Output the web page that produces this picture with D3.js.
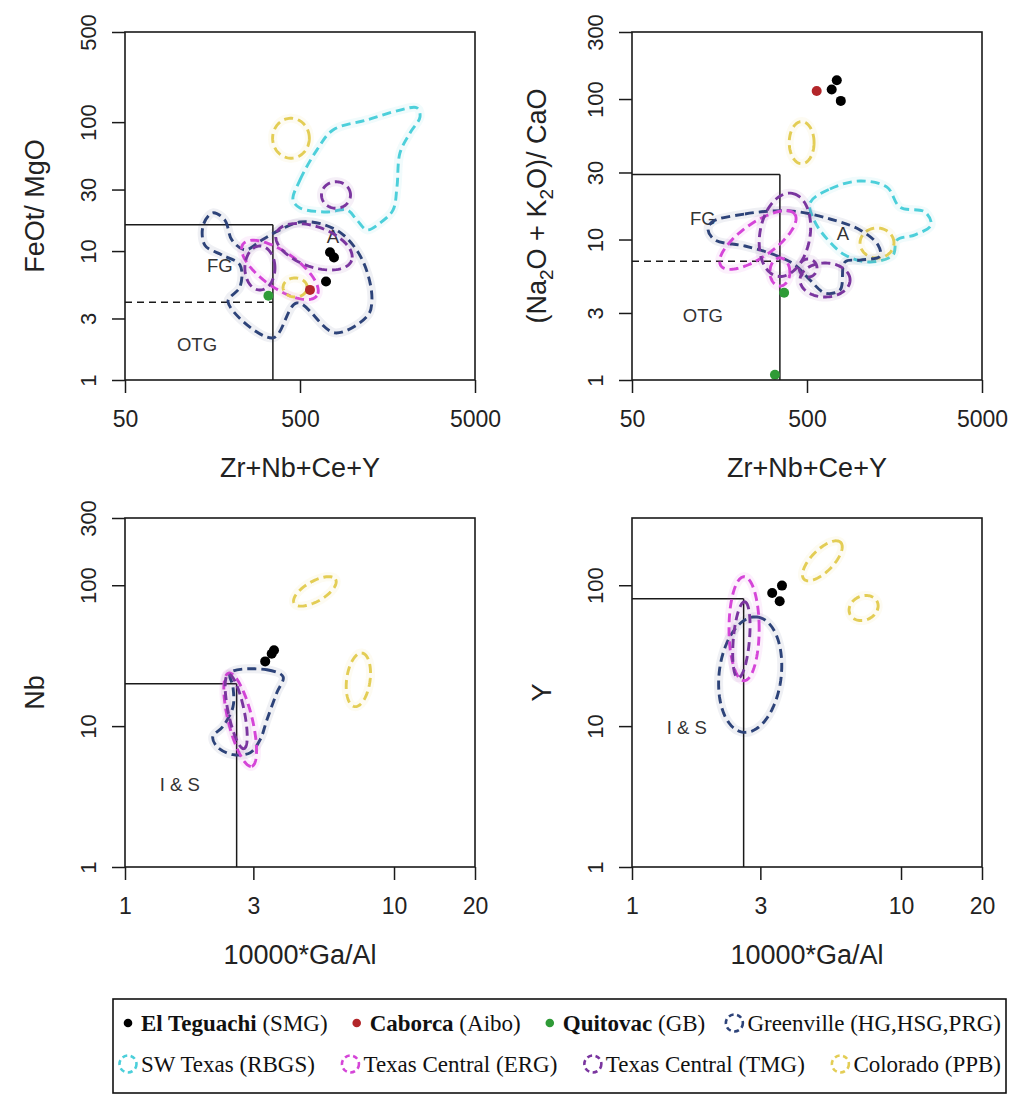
<!DOCTYPE html>
<html>
<head>
<meta charset="utf-8">
<script src="https://cdn.jsdelivr.net/npm/d3@7"></script>
<style>
  body { margin: 0; background: #fff; }
  svg { display: block; }
</style>
</head>
<body>
<svg id="chart" width="1011" height="1097"></svg>
<script>
// ---------------- sample points ([x, y] pairs) ----------------
// Panel A: Zr+Nb+Ce+Y vs FeOt/MgO
const teguachiA = [[742, 9.8], [782, 8.9], [704, 5.8]];
const caborcaA  = [[570, 5.0]];
const quitovacA = [[330, 4.5]];
// Panel B: Zr+Nb+Ce+Y vs (Na2O+K2O)/CaO
const teguachiB = [[740, 136], [692, 117], [780, 97]];
const caborcaB  = [[568, 114]];
const quitovacB = [[370, 4.18], [328, 1.09]];
// Panel C: 10000*Ga/Al vs Nb
const teguachiC = [[3.32, 28.8], [3.51, 32.6], [3.58, 34.5]];
// Panel D: 10000*Ga/Al vs Y
const teguachiD = [[3.32, 88], [3.61, 99.4], [3.54, 76.9]];

// ---------------- reference fields ----------------
// Irregular fields: closed outlines, [x, y] vertices in data units.
// Elliptical fields: centre (data units) plus two semi-axis vectors u, v in log10 units.
const greenvilleA = [[159,19.8],[186,17.4],[204,12.2],[243,10.2],[303,12.2],[384,14.6],[500,16.8],
  [668,16.2],[869,13.6],[1071,9.84],[1224,6.53],[1288,4.18],[1224,3.19],[792,2.32],[480,3.96],
  [350,2.12],[194,4.03],[227,5.27],[227,7.8],[179,9.33],[143,11.1],[140,15.9]];
const swTexasA = [[456,24.9],[500,35.6],[625,60.9],[772,86.9],[1207,104],[1863,124],[2332,129],
  [2426,110],[2126,82.4],[1863,57.7],[1791,31.4],[1699,20.8],[1432,16.5],[1207,14.6],[1058,17.4],
  [929,20.8],[713,20.1],[500,21.6]];
const ergA = [{x: 384, y: 7.14, u: [0.211, -0.200], v: [-0.059, -0.114]}];
const tmgA = [
  {x: 601, y: 10.8, u: [0.215, -0.106], v: [-0.039, -0.146]},
  {x: 295, y: 7.39, u: [0.086, 0], v: [0, 0.171]},
  {x: 803, y: 27.2, u: [0.083, 0], v: [0, 0.103]}
];
const coloradoA = [
  {x: 444, y: 75, u: [0.105, 0], v: [0, 0.155]},
  {x: 469, y: 5.22, u: [0.069, 0], v: [0, 0.074]}
];

const greenvilleB = [[143,13.3],[221,15.2],[400,16.0],[676,14.0],[1005,11.7],[1273,9.14],[1307,7.63],
  [1005,7.14],[824,6.92],[772,4.37],[634,4.16],[520,5.15],[427,6.59],[328,7.76],[221,8.99],
  [149,9.92],[136,11.7]];
const swTexasB = [[520,18.2],[676,22.9],[1005,26.1],[1432,23.6],[1699,17.0],[2361,15.7],[2557,12.7],
  [2071,10.8],[1634,9.92],[1549,7.76],[1146,6.92],[824,7.76],[659,9.92],[556,13.3]];
const ergB = [
  {x: 262, y: 9.92, u: [0.211, 0.184], v: [0.056, -0.099]},
  {x: 350, y: 5.87, u: [0.057, 0], v: [0, 0.10]}
];
const tmgB = [
  {x: 374, y: 10.8, u: [0.042, 0.295], v: [0.141, -0.031]},
  {x: 634, y: 5.15, u: [0.143, 0], v: [0, 0.121]},
  {x: 507, y: 6.27, u: [0.051, 0], v: [0, 0.064]}
];
const coloradoB = [
  {x: 466, y: 48.9, u: [0.071, 0], v: [0, 0.150]},
  {x: 1256, y: 9.44, u: [0.097, 0], v: [0, 0.107]}
];

const greenvilleC = [[2.46,23.9],[3.37,25.1],[3.87,22.4],[3.67,17.3],[3.37,11.1],[3.18,8.02],
  [2.92,6.48],[2.52,6.27],[2.20,7.14],[2.12,8.41],[2.31,9.91],[2.52,13.7],[2.52,19.0]];
const ergC = [{x: 2.68, y: 11.1, u: [0.043, -0.331], v: [0.043, 0.021]}];
const tmgC = [{x: 2.59, y: 12.7, u: [0.029, -0.264], v: [0.029, 0.012]}];
const coloradoC = [
  {x: 5.08, y: 90.4, u: [0.077, 0.085], v: [0.019, -0.061]},
  {x: 7.37, y: 21.3, u: [0.014, 0.190], v: [0.043, -0.012]}
];

const greenvilleD = [{x: 2.75, y: 23.2, u: [0.026, 0.409], v: [0.1145, -0.027]}];
const ergD = [{x: 2.61, y: 49.1, u: [0.056, 0], v: [0, 0.369]}];
const tmgD = [{x: 2.55, y: 41.0, u: [0.012, 0.27], v: [0.03, -0.003]}];
const coloradoD = [
  {x: 5.10, y: 149, u: [0.068, 0.131], v: [0.029, -0.055]},
  {x: 7.26, y: 68.9, u: [0.0506, 0.0447], v: [0.019, -0.077]}
];

// ---------------- discrimination boundaries (Whalen et al.) ----------------
const boundaryA = {x: 350, y: 16, yDash: 4};
const boundaryB = {x: 350, y: 29, yDash: 7};
const boundaryC = {x: 2.6, y: 20};
const boundaryD = {x: 2.6, y: 80};

// ---------------- axes ----------------
const xTicksZr = [50, 500, 5000];
const xTicksGa = [1, 3, 10, 20];
const yTicksA = [1, 3, 10, 30, 100, 500];
const yTicksB = [1, 3, 10, 30, 100, 300];
const yTicksC = [1, 10, 100, 300];
const yTicksD = [1, 10, 100];

// ---------------- field labels ----------------
const labelsA = [["FG", 174, 7.66], ["OTG", 129, 1.87], ["A", 772, 12.9]];
const labelsB = [["FG", 127, 14.2], ["OTG", 127, 2.90], ["A", 803, 11.1]];
const labelsC = [["I & S", 1.60, 3.84]];
const labelsD = [["I & S", 1.60, 9.75]];

// ---------------- legend ----------------
const legendNames = ["El Teguachi", "Caborca", "Quitovac", "Greenville",
                     "SW Texas", "Texas Central", "Texas Central", "Colorado"];
const legendTags  = [" (SMG)", " (Aibo)", " (GB)", " (HG,HSG,PRG)",
                     " (RBGS)", " (ERG)", " (TMG)", " (PPB)"];
const legendKeys  = ["teguachi", "caborca", "quitovac", "greenville",
                     "swtexas", "erg", "tmg", "colorado"];

const colors = {
  teguachi: "#000000", caborca: "#b3262a", quitovac: "#2f9b37",
  greenville: "#2d4379", swtexas: "#4ccfda", erg: "#d545d8",
  tmg: "#7a359f", colorado: "#e3cd55"
};

const SANS = "'Liberation Sans', Arial, Helvetica, sans-serif";
const SERIF = "'Liberation Serif', 'Times New Roman', serif";
const svg = d3.select("#chart");
svg.append("rect").attr("width", 1011).attr("height", 1097).attr("fill", "#fff");

function ellipsePoints(e) {
  const lx = Math.log10(e.x), ly = Math.log10(e.y);
  return d3.range(90).map(i => {
    const t = i / 90 * 2 * Math.PI;
    return [Math.pow(10, lx + e.u[0] * Math.cos(t) + e.v[0] * Math.sin(t)),
            Math.pow(10, ly + e.u[1] * Math.cos(t) + e.v[1] * Math.sin(t))];
  });
}

function drawPanel(cfg) {
  const g = svg.append("g");
  const x = d3.scaleLog().domain(cfg.xDomain).range([cfg.left, cfg.right]);
  const y = d3.scaleLog().domain(cfg.yDomain).range([cfg.bottom, cfg.top]);

  // boundary lines
  const b = cfg.boundary;
  const bl = g.append("g").attr("stroke", "#1a1a1a").attr("stroke-width", 1.5).attr("fill", "none");
  bl.append("line").attr("x1", x(b.x)).attr("x2", x(b.x)).attr("y1", y(cfg.yDomain[0])).attr("y2", y(b.y));
  bl.append("line").attr("x1", x(cfg.xDomain[0])).attr("x2", x(b.x)).attr("y1", y(b.y)).attr("y2", y(b.y));
  if (b.yDash) {
    bl.append("line").attr("x1", x(cfg.xDomain[0])).attr("x2", x(b.x)).attr("y1", y(b.yDash)).attr("y2", y(b.yDash))
      .attr("stroke-dasharray", "7,5");
  }

  // field labels
  g.selectAll("text.lab").data(cfg.labels).join("text").attr("class", "lab")
    .attr("x", d => x(d[1])).attr("y", d => y(d[2])).attr("dy", "0.35em")
    .attr("text-anchor", "middle").attr("font-family", SANS).attr("font-size", 18.5)
    .attr("fill", "#333").text(d => d[0]);

  // reference fields
  const curve = d3.line().x(d => x(d[0])).y(d => y(d[1])).curve(d3.curveCatmullRomClosed.alpha(0.5));
  const ell = d3.line().x(d => x(d[0])).y(d => y(d[1])).curve(d3.curveLinearClosed);
  const fg = g.append("g").attr("fill", "none");
  cfg.fields.forEach(f => {
    const shapes = f.poly ? [curve(f.poly)] : f.ellipses.map(e => ell(ellipsePoints(e)));
    shapes.forEach(dPath => {
      fg.append("path").attr("d", dPath).attr("stroke", colors[f.key])
        .attr("stroke-width", 9).attr("stroke-opacity", 0.08);
      fg.append("path").attr("d", dPath).attr("stroke", colors[f.key])
        .attr("stroke-width", 2.9).attr("stroke-dasharray", "9,5");
    });
  });

  // sample points
  cfg.points.forEach(p => {
    g.append("g").selectAll("circle").data(p.data).join("circle")
      .attr("cx", d => x(d[0])).attr("cy", d => y(d[1])).attr("r", 5)
      .attr("fill", colors[p.key]);
  });

  // frame
  g.append("rect").attr("x", cfg.left).attr("y", cfg.top)
    .attr("width", cfg.right - cfg.left).attr("height", cfg.bottom - cfg.top)
    .attr("fill", "none").attr("stroke", "#1a1a1a").attr("stroke-width", 1.6);

  // axes
  const fmt = d3.format("d");
  const gx = g.append("g").attr("transform", `translate(0,${cfg.bottom})`)
    .call(d3.axisBottom(x).tickValues(cfg.xTicks).tickFormat(fmt).tickSize(13));
  gx.select(".domain").remove();
  gx.selectAll("line").attr("stroke", "#1a1a1a").attr("stroke-width", 1.5);
  gx.selectAll("text").attr("y", 47).attr("dy", null)
    .attr("font-family", SANS).attr("font-size", 23).attr("fill", "#222");

  const gy = g.append("g").attr("transform", `translate(${cfg.left},0)`)
    .call(d3.axisLeft(y).tickValues(cfg.yTicks).tickFormat(fmt).tickSize(13));
  gy.select(".domain").remove();
  gy.selectAll("line").attr("stroke", "#1a1a1a").attr("stroke-width", 1.5);
  gy.selectAll("text").attr("x", 0).attr("dy", null).attr("text-anchor", "middle")
    .attr("transform", "translate(-29,0) rotate(-90)")
    .attr("font-family", SANS).attr("font-size", 22).attr("fill", "#222");

  // axis titles
  g.append("text").attr("x", (cfg.left + cfg.right) / 2).attr("y", cfg.bottom + 97)
    .attr("text-anchor", "middle").attr("font-family", SANS).attr("font-size", 27)
    .attr("fill", "#222").text(cfg.xTitle);
  const yt = g.append("text")
    .attr("transform", `translate(${cfg.left - cfg.yTitleOffset},${(cfg.top + cfg.bottom) / 2}) rotate(-90)`)
    .attr("text-anchor", "middle").attr("font-family", SANS).attr("font-size", 27).attr("fill", "#222");
  cfg.yTitle.forEach(part => {
    const ts = yt.append("tspan").text(part.t);
    if (part.sub) ts.attr("font-size", 19).attr("dy", 7);
    if (part.after) ts.attr("dy", -7);
  });
}

drawPanel({
  left: 125, right: 475, top: 32, bottom: 380,
  xDomain: [50, 5000], yDomain: [1, 500], xTicks: xTicksZr, yTicks: yTicksA,
  xTitle: "Zr+Nb+Ce+Y", yTitle: [{t: "FeOt/ MgO"}], yTitleOffset: 81,
  boundary: boundaryA, labels: labelsA,
  fields: [
    {key: "swtexas", poly: swTexasA},
    {key: "greenville", poly: greenvilleA},
    {key: "erg", ellipses: ergA},
    {key: "tmg", ellipses: tmgA},
    {key: "colorado", ellipses: coloradoA}
  ],
  points: [{key: "teguachi", data: teguachiA}, {key: "caborca", data: caborcaA}, {key: "quitovac", data: quitovacA}]
});

drawPanel({
  left: 632, right: 982, top: 32, bottom: 380,
  xDomain: [50, 5000], yDomain: [1, 300], xTicks: xTicksZr, yTicks: yTicksB,
  xTitle: "Zr+Nb+Ce+Y",
  yTitle: [{t: "(Na"}, {t: "2", sub: true}, {t: "O + K", after: true}, {t: "2", sub: true}, {t: "O)/ CaO", after: true}],
  yTitleOffset: 86,
  boundary: boundaryB, labels: labelsB,
  fields: [
    {key: "swtexas", poly: swTexasB},
    {key: "colorado", ellipses: coloradoB},
    {key: "greenville", poly: greenvilleB},
    {key: "erg", ellipses: ergB},
    {key: "tmg", ellipses: tmgB}
  ],
  points: [{key: "teguachi", data: teguachiB}, {key: "caborca", data: caborcaB}, {key: "quitovac", data: quitovacB}]
});

drawPanel({
  left: 125, right: 475, top: 518, bottom: 867,
  xDomain: [1, 20], yDomain: [1, 300], xTicks: xTicksGa, yTicks: yTicksC,
  xTitle: "10000*Ga/Al", yTitle: [{t: "Nb"}], yTitleOffset: 81,
  boundary: boundaryC, labels: labelsC,
  fields: [
    {key: "greenville", poly: greenvilleC},
    {key: "erg", ellipses: ergC},
    {key: "tmg", ellipses: tmgC},
    {key: "colorado", ellipses: coloradoC}
  ],
  points: [{key: "teguachi", data: teguachiC}]
});

drawPanel({
  left: 632, right: 982, top: 518, bottom: 867,
  xDomain: [1, 20], yDomain: [1, 300], xTicks: xTicksGa, yTicks: yTicksD,
  xTitle: "10000*Ga/Al", yTitle: [{t: "Y"}], yTitleOffset: 81,
  boundary: boundaryD, labels: labelsD,
  fields: [
    {key: "greenville", ellipses: greenvilleD},
    {key: "erg", ellipses: ergD},
    {key: "tmg", ellipses: tmgD},
    {key: "colorado", ellipses: coloradoD}
  ],
  points: [{key: "teguachi", data: teguachiD}]
});

// ---------------- legend ----------------
const lg = svg.append("g");
lg.append("rect").attr("x", 113).attr("y", 999).attr("width", 893).attr("height", 94)
  .attr("fill", "#fff").attr("stroke", "#111").attr("stroke-width", 1.6);

const rowY = [1023, 1064];
const boldNames = new Set(["teguachi", "caborca", "quitovac"]);
[0, 1].forEach(r => {
  const idx = d3.range(r * 4, r * 4 + 4);
  // lay out a row, then spread the leftover width into the gaps
  const items = idx.map(i => {
    const gi = lg.append("g");
    const t = gi.append("text").attr("font-family", SERIF).attr("font-size", 23)
      .attr("fill", "#111").attr("y", rowY[r]).attr("dy", "0.35em");
    t.append("tspan").attr("font-weight", boldNames.has(legendKeys[i]) ? "bold" : "normal").text(legendNames[i]);
    t.append("tspan").text(legendTags[i]);
    return {gi, t, i, w: t.node().getComputedTextLength()};
  });
  const symW = 22, start = 119, end = 1001;
  const total = d3.sum(items, d => d.w + symW);
  const gap = (end - start - total) / 3;
  let cur = start;
  items.forEach(it => {
    const key = legendKeys[it.i];
    const cx = cur + 9;
    if (boldNames.has(key)) {
      it.gi.append("circle").attr("cx", cx).attr("cy", rowY[r]).attr("r", 4.3).attr("fill", colors[key]);
    } else {
      it.gi.append("circle").attr("cx", cx).attr("cy", rowY[r]).attr("r", 8.5)
        .attr("fill", "none").attr("stroke", colors[key]).attr("stroke-width", 2.6)
        .attr("stroke-dasharray", "5,3.5");
    }
    it.t.attr("x", cur + symW);
    cur += symW + it.w + gap;
  });
});
</script>
</body>
</html>
